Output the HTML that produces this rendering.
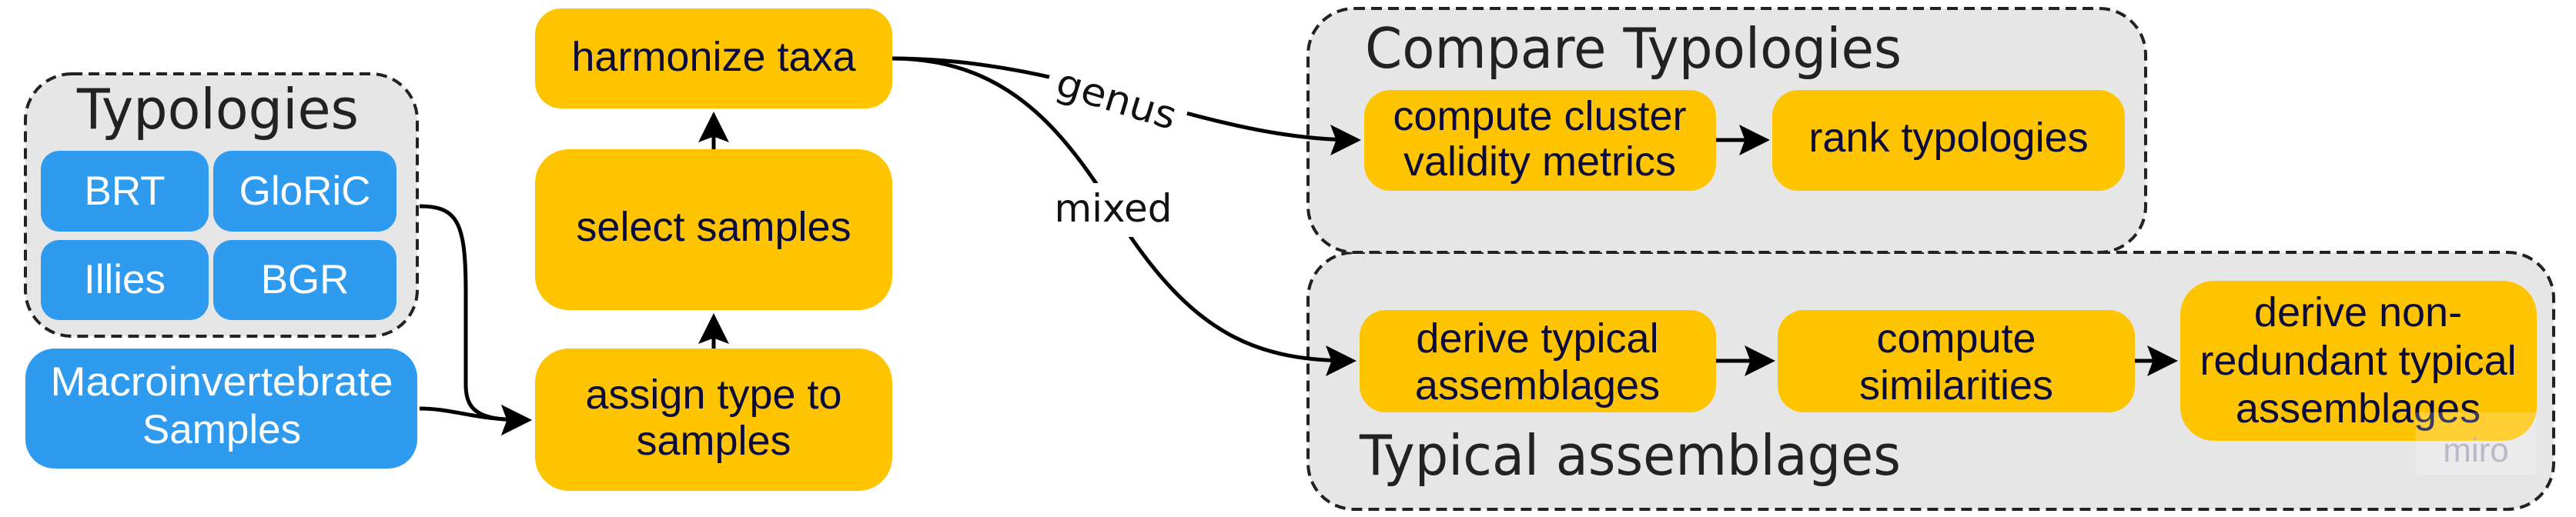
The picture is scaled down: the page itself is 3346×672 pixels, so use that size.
<!DOCTYPE html>
<html><head><meta charset="utf-8"><style>
html,body{margin:0;padding:0;background:#fff;}
svg{display:block;}
.b{font-family:"Liberation Sans",Arial,sans-serif;font-size:54px;fill:#0b0b3b;text-anchor:middle;}
.w{font-family:"Liberation Sans",Arial,sans-serif;font-size:53px;fill:#fff;text-anchor:middle;}
.t{font-family:"DejaVu Sans","Liberation Sans",sans-serif;font-size:72px;fill:#222;}
.l{font-family:"DejaVu Sans","Liberation Sans",sans-serif;font-size:50px;fill:#111;}
</style></head><body>
<svg width="3346" height="672" viewBox="0 0 3346 672" xmlns="http://www.w3.org/2000/svg">
<defs>
<marker id="ah" markerWidth="8" markerHeight="8" refX="7" refY="4" orient="auto" markerUnits="strokeWidth">
<path d="M0,0 L8,4 L0,8 L1.5,4 Z" fill="#000"/></marker>
</defs>
<!-- containers -->
<rect x="33" y="96" width="509" height="341" rx="60" fill="#e6e6e6" stroke="#222" stroke-width="4" stroke-dasharray="14 8"/>
<rect x="1699" y="328" width="1618" height="334" rx="60" fill="#e6e6e6" stroke="#222" stroke-width="4" stroke-dasharray="14 8"/>
<rect x="1699" y="11" width="1088" height="317" rx="60" fill="#e6e6e6" stroke="#222" stroke-width="4" stroke-dasharray="14 8"/>

<text class="t" x="100" y="167" textLength="366" lengthAdjust="spacingAndGlyphs">Typologies</text>
<text class="t" x="1773" y="88" textLength="697" lengthAdjust="spacingAndGlyphs">Compare Typologies</text>
<text class="t" x="1766" y="617" textLength="703" lengthAdjust="spacingAndGlyphs">Typical assemblages</text>

<!-- blue boxes -->
<g fill="#2f9bef">
<rect x="53" y="196" width="218" height="105" rx="24"/>
<rect x="277" y="196" width="238" height="105" rx="24"/>
<rect x="53" y="312" width="218" height="104" rx="24"/>
<rect x="277" y="312" width="238" height="104" rx="24"/>
<rect x="33" y="453" width="509" height="156" rx="38"/>
</g>
<text class="w" x="162" y="266">BRT</text>
<text class="w" x="396" y="266">GloRiC</text>
<text class="w" x="162" y="381">Illies</text>
<text class="w" x="396" y="381">BGR</text>
<text class="w" x="288" y="514" textLength="445" lengthAdjust="spacingAndGlyphs">Macroinvertebrate</text>
<text class="w" x="288" y="576">Samples</text>

<!-- yellow boxes -->
<g fill="#ffc400">
<rect x="695" y="11" width="464" height="130" rx="34"/>
<rect x="695" y="194" width="464" height="209" rx="44"/>
<rect x="695" y="453" width="464" height="185" rx="44"/>
<rect x="1772" y="117" width="457" height="131" rx="34"/>
<rect x="2302" y="117" width="458" height="131" rx="34"/>
<rect x="1766" y="403" width="463" height="133" rx="34"/>
<rect x="2309" y="403" width="464" height="133" rx="34"/>
<rect x="2832" y="365" width="463" height="208" rx="44"/>
</g>
<text class="b" x="927" y="92">harmonize taxa</text>
<text class="b" x="927" y="313">select samples</text>
<text class="b" x="927" y="531">assign type to</text>
<text class="b" x="927" y="591">samples</text>
<text class="b" x="2000" y="169">compute cluster</text>
<text class="b" x="2000" y="228">validity metrics</text>
<text class="b" x="2531" y="197">rank typologies</text>
<text class="b" x="1997" y="458">derive typical</text>
<text class="b" x="1997" y="519">assemblages</text>
<text class="b" x="2541" y="458">compute</text>
<text class="b" x="2541" y="519">similarities</text>
<text class="b" x="3063" y="424">derive non-</text>
<text class="b" x="3063" y="487">redundant typical</text>
<text class="b" x="3063" y="549">assemblages</text>

<!-- miro watermark -->
<rect x="3138" y="536" width="157" height="81" fill="#ffffff" fill-opacity="0.2"/>
<text x="3216" y="600" font-family="Liberation Sans,Arial,sans-serif" font-size="44" fill="#b8b8c8" text-anchor="middle">miro</text>

<!-- connectors -->
<g fill="none" stroke="#000" stroke-width="5">
<path d="M927 453 L927 412" marker-end="url(#ah)"/>
<path d="M927 194 L927 150" marker-end="url(#ah)"/>
<path d="M545 268 C595 268 605 290 605 380 L605 500 C605 540 630 546 686 546" marker-end="url(#ah)"/>
<path d="M545 531 C590 531 615 546 686 546" marker-end="url(#ah)"/>
<path d="M1159 76 C1400 76 1560 182 1763 182" marker-end="url(#ah)"/>
<path d="M1159 76 C1330 76 1400 200 1470 310 C1560 440 1640 469 1757 469" marker-end="url(#ah)"/>
<path d="M2229 182 L2294 182" marker-end="url(#ah)"/>
<path d="M2229 469 L2301 469" marker-end="url(#ah)"/>
<path d="M2773 469 L2824 469" marker-end="url(#ah)"/>
</g>
<!-- label gaps -->
<rect x="1358" y="95" width="185" height="70" fill="#fff" transform="rotate(17 1450 130)"/>
<rect x="1360" y="238" width="170" height="70" fill="#fff"/>
<text class="l" x="1450" y="146" text-anchor="middle" transform="rotate(17 1450 130)" textLength="160" lengthAdjust="spacingAndGlyphs">genus</text>
<text class="l" x="1446" y="288" text-anchor="middle" textLength="153" lengthAdjust="spacingAndGlyphs">mixed</text>
</svg>
</body></html>
